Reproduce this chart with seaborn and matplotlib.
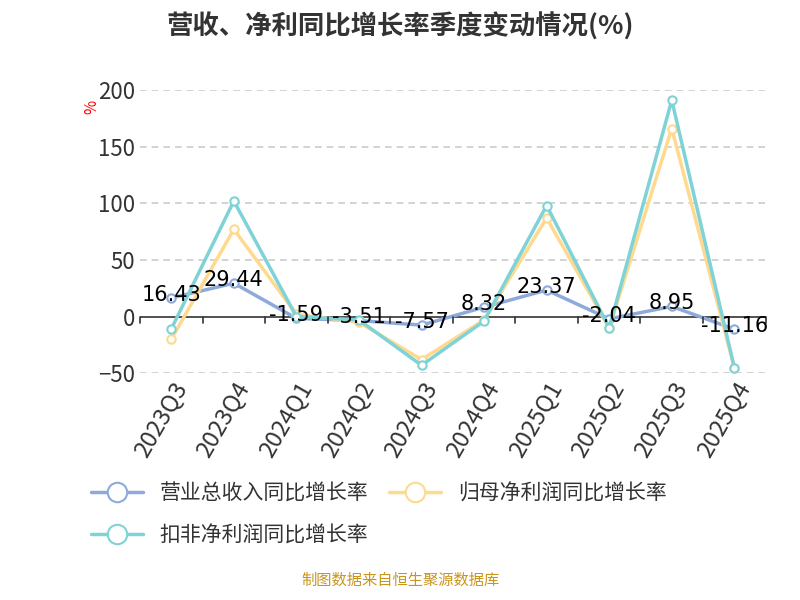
import matplotlib
matplotlib.use("Agg")
import matplotlib.pyplot as plt
import seaborn as sns
import pandas as pd
from matplotlib.lines import Line2D

quarters = ["2023Q3","2023Q4","2024Q1","2024Q2","2024Q3","2024Q4","2025Q1","2025Q2","2025Q3","2025Q4"]
revenue = [16.43, 29.44, -1.59, -3.51, -7.57, 8.32, 23.37, -2.04, 8.95, -11.16]
net_profit = [-20, 77, 2, -5, -38, -3, 87, -10, 166, -45]
deducted = [-11, 102, 0, -3, -43, -4, 98, -10, 191, -45]
names = ["营业总收入同比增长率", "归母净利润同比增长率", "扣非净利润同比增长率"]
colors = ["#8eaadb", "#ffd98e", "#7fd3d6"]

sns.set_theme(style="white")
plt.rcParams['font.family'] = ['Noto Sans CJK SC', 'DejaVu Sans']

fig = plt.figure(figsize=(8, 6), dpi=100)
ax = fig.add_axes([0.175, 0.378, 0.782, 0.472])
x = list(range(len(quarters)))
for vals, c in zip([revenue, net_profit, deducted], colors):
    df = pd.DataFrame({"x": x, "y": vals})
    sns.lineplot(data=df, x="x", y="y", ax=ax, color=c, lw=2.5, marker="o",
                 markersize=6, markerfacecolor="white", markeredgecolor=c, markeredgewidth=1.5)
for xi, v in zip(x, revenue):
    ax.text(xi, v - 6, f"{v:.2f}", ha="center", va="bottom", fontsize=15, color="black",
            family="DejaVu Sans")

ax.set_xlim(-0.5, len(quarters) - 0.5)
ax.set_ylim(-50, 200)
ax.set_yticks([-50, 0, 50, 100, 150, 200])
ax.tick_params(axis='y', labelsize=16, colors="#333333", length=0)
ax.set_xticks(x)
ax.set_xticklabels(quarters, rotation=60, ha="right", rotation_mode="anchor", fontsize=17, color="#333333")
ax.tick_params(axis='x', length=0)
for b in [i - 0.5 for i in range(len(quarters) + 1)]:
    ax.plot([b, b], [0, -6], color="#333333", lw=1.2, clip_on=False)
for t in [-50, 50, 100, 150, 200]:
    ax.axhline(t, color="#cccccc", ls=(0, (4, 3)), lw=1.2, zorder=0)
ax.axhline(0, color="#333333", lw=1.2, zorder=1)
for s in ax.spines.values():
    s.set_visible(False)
ax.set_xlabel(""); ax.set_ylabel("")
ax.text(-0.09, 0.93, "%", transform=ax.transAxes, color="red", fontsize=11, rotation=90)

fig.text(0.5, 0.955, "营收、净利同比增长率季度变动情况(%)", ha="center", va="center",
         fontsize=19, fontweight="bold", color="#333333")
handles = [Line2D([], [], color=c, lw=2.5, marker="o", markersize=14, markerfacecolor="white",
                  markeredgecolor=c, markeredgewidth=1.5) for c in colors]
fig.legend(handles[:2], names[:2], loc="center left", bbox_to_anchor=(0.09, 0.178), ncol=2,
           frameon=False, fontsize=15, handlelength=2.5, columnspacing=1.0, labelcolor="#333333")
fig.legend(handles[2:], names[2:], loc="center left", bbox_to_anchor=(0.09, 0.108), ncol=1,
           frameon=False, fontsize=15, handlelength=2.5, labelcolor="#333333")
fig.text(0.5, 0.018, "制图数据来自恒生聚源数据库", ha="center", va="bottom", fontsize=11, color="#c8951e")
fig.savefig("out.png", dpi=100)
